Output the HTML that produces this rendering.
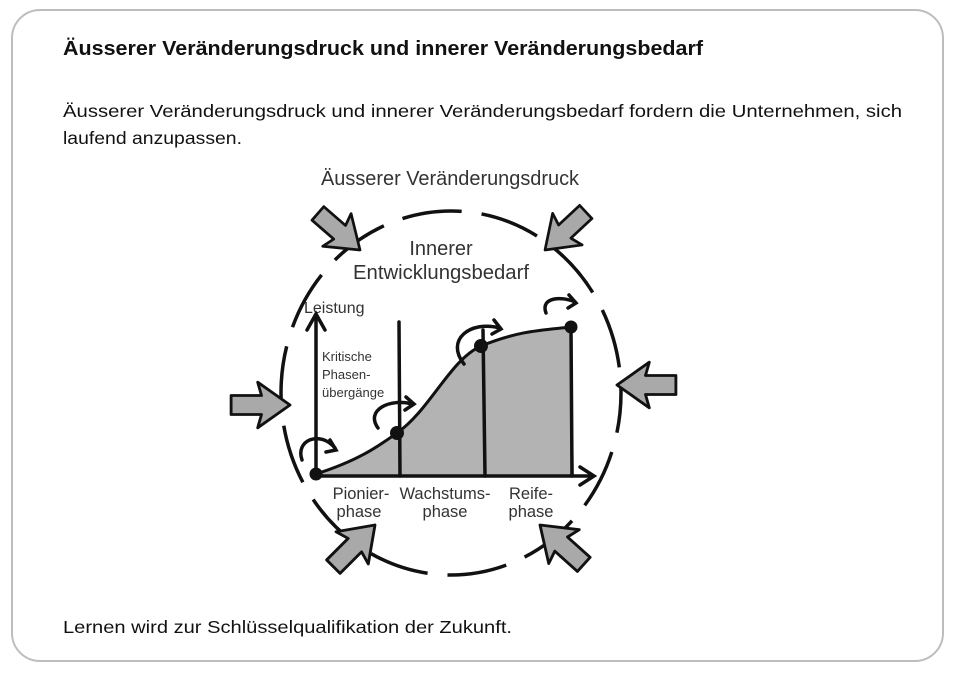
<!DOCTYPE html>
<html><head><meta charset="utf-8"><style>
html,body{margin:0;padding:0;background:#fff;width:956px;height:675px;overflow:hidden}
svg{display:block}
</style></head><body>
<svg width="956" height="675" viewBox="0 0 956 675" xmlns="http://www.w3.org/2000/svg">
<defs>
<polygon id="ar" points="-62,-10 -30,-10 -34,-24 0,0 -34,24 -30,10 -62,10" fill="#a9a9a9" stroke="#111" stroke-width="3" stroke-linejoin="round"/>
</defs>
<rect x="12" y="10" width="931" height="651" rx="28" fill="#fff" stroke="#bdbdbd" stroke-width="2"/>
<g font-family="Liberation Sans, sans-serif" fill="#111">
<text x="63" y="55" font-size="20" font-weight="bold" textLength="640" lengthAdjust="spacingAndGlyphs">Äusserer Veränderungsdruck und innerer Veränderungsbedarf</text>
<text x="63" y="117" font-size="17.5" textLength="839" lengthAdjust="spacingAndGlyphs">Äusserer Veränderungsdruck und innerer Veränderungsbedarf fordern die Unternehmen, sich</text>
<text x="63" y="144" font-size="17.5" textLength="179" lengthAdjust="spacingAndGlyphs">laufend anzupassen.</text>
<text x="63" y="633" font-size="17.5" textLength="449" lengthAdjust="spacingAndGlyphs">Lernen wird zur Schlüsselqualifikation der Zukunft.</text>
</g>
<g font-family="Liberation Sans, sans-serif" fill="#333">
<text x="450" y="185" font-size="20" text-anchor="middle" textLength="258" lengthAdjust="spacingAndGlyphs">Äusserer Veränderungsdruck</text>
<text x="441" y="255" font-size="20" text-anchor="middle">Innerer</text>
<text x="441" y="279" font-size="20" text-anchor="middle" textLength="176" lengthAdjust="spacingAndGlyphs">Entwicklungsbedarf</text>
<text x="304" y="313" font-size="16">Leistung</text>
<text x="322" y="361" font-size="13">Kritische</text>
<text x="322" y="379" font-size="13">Phasen-</text>
<text x="322" y="397" font-size="13">übergänge</text>
<g font-size="16.5" text-anchor="middle">
<text x="361" y="499">Pionier-</text><text x="359" y="517">phase</text>
<text x="445" y="499">Wachstums-</text><text x="445" y="517">phase</text>
<text x="531" y="499">Reife-</text><text x="531" y="517">phase</text>
</g>
</g>
<ellipse cx="451" cy="393" rx="170" ry="182" fill="none" stroke="#111" stroke-width="3.5" stroke-dasharray="60 20" stroke-dashoffset="20"/>
<path d="M316,474 C360,460 380,445 397,433 C430,410 450,360 481,346 C520,330 545,330 571,327 L574,476 L316,476 Z" fill="#b3b3b3"/>
<path d="M316,474 C360,460 380,445 397,433 C430,410 450,360 481,346 C520,330 545,330 571,327" fill="none" stroke="#111" stroke-width="3"/>
<g stroke="#111" stroke-width="3.5" fill="none" stroke-linecap="round">
<line x1="316" y1="476" x2="316" y2="316"/><path d="M307,330 L316,314 L325,330"/>
<line x1="316" y1="476" x2="592" y2="476"/><path d="M580,467 L594,476 L580,485"/>
<line x1="399" y1="322" x2="400" y2="476"/>
<line x1="483" y1="330" x2="485" y2="476"/>
<line x1="571" y1="328" x2="572" y2="476"/>
<path d="M302,460 C295,440 320,430 335,448"/><path d="M330,440 L336,450 L326,452"/>
<path d="M378,428 C365,410 390,398 412,404"/><path d="M406,397 L414,404 L405,410"/>
<path d="M464,364 C445,340 470,320 500,328"/><path d="M494,320 L501,329 L492,334"/>
<path d="M546,313 C540,297 562,296 575,302"/><path d="M569,295 L576,303 L568,308"/>
</g>
<g fill="#111">
<circle cx="316" cy="474" r="6.5"/><circle cx="397" cy="433" r="7"/><circle cx="481" cy="346" r="7"/><circle cx="571" cy="327" r="6.5"/>
</g>
<use href="#ar" transform="translate(290,405) scale(0.95)"/>
<use href="#ar" transform="translate(617,385) rotate(180) scale(0.95)"/>
<use href="#ar" transform="translate(360,250) rotate(41) scale(0.9)"/>
<use href="#ar" transform="translate(545,250) rotate(137) scale(0.9)"/>
<use href="#ar" transform="translate(375,525) rotate(-45) scale(0.95)"/>
<use href="#ar" transform="translate(540,525) rotate(-138) scale(0.95)"/>
</svg>
</body></html>
